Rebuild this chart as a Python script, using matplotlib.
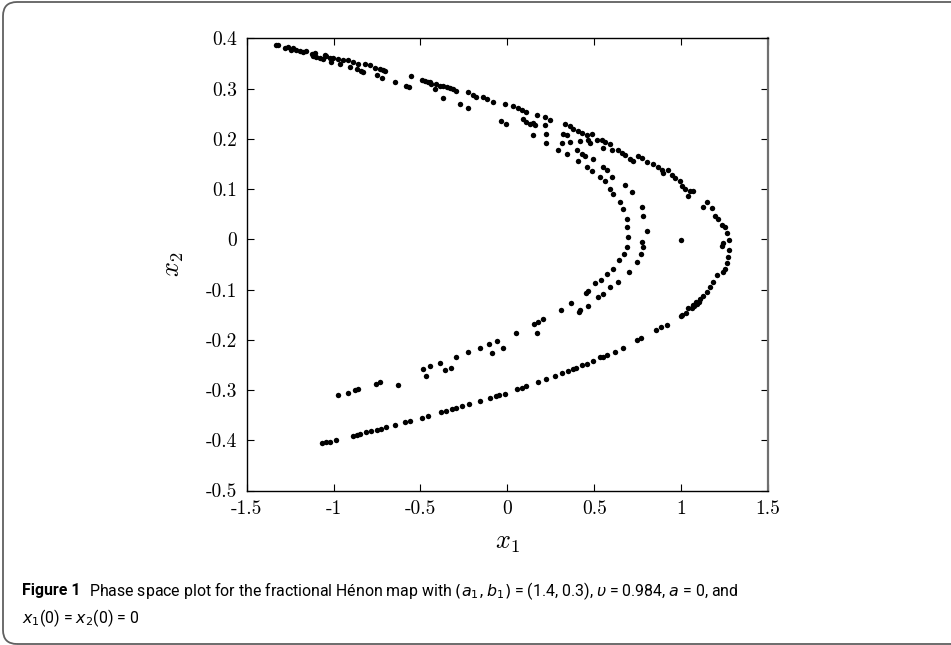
import matplotlib
matplotlib.use("Agg")
import matplotlib.pyplot as plt
from matplotlib.patches import FancyBboxPatch
from matplotlib.transforms import IdentityTransform

# orbit points (x1, x2), grouped by the part of the attractor they sit on
upper_arm = [
    (-1.329, 0.386), (-1.319, 0.386), (-1.281, 0.380), (-1.262, 0.383), (-1.243, 0.376),
    (-1.233, 0.381), (-1.214, 0.377), (-1.195, 0.375), (-1.175, 0.373), (-1.156, 0.375),
    (-1.127, 0.368), (-1.118, 0.364), (-1.108, 0.370), (-1.099, 0.363), (-1.079, 0.361),
    (-1.060, 0.359), (-1.051, 0.366), (-1.041, 0.364), (-1.022, 0.361), (-1.012, 0.353),
    (-1.003, 0.361), (-0.974, 0.358), (-0.964, 0.348), (-0.945, 0.356), (-0.916, 0.356),
    (-0.907, 0.342), (-0.888, 0.353), (-0.868, 0.338), (-0.859, 0.349), (-0.840, 0.335),
    (-0.830, 0.333), (-0.820, 0.348), (-0.792, 0.346), (-0.763, 0.340), (-0.753, 0.326),
    (-0.734, 0.338), (-0.724, 0.322), (-0.715, 0.336), (-0.705, 0.335), (-0.648, 0.313),
    (-0.581, 0.306), (-0.565, 0.304), (-0.552, 0.324), (-0.494, 0.318), (-0.475, 0.315),
    (-0.456, 0.313), (-0.446, 0.313), (-0.437, 0.310), (-0.418, 0.300), (-0.408, 0.310),
    (-0.389, 0.306), (-0.373, 0.282), (-0.369, 0.306), (-0.350, 0.303), (-0.331, 0.302),
    (-0.312, 0.300), (-0.293, 0.296), (-0.274, 0.269), (-0.226, 0.293), (-0.224, 0.262),
    (-0.197, 0.288), (-0.178, 0.284), (-0.139, 0.283), (-0.120, 0.280),
    (-0.082, 0.273), (-0.014, 0.270), (0.034, 0.265), (0.062, 0.262), (0.082, 0.258),
    (0.110, 0.253), (-0.034, 0.235), (-0.005, 0.230), (0.091, 0.240), (0.110, 0.233),
    (0.130, 0.230), (0.149, 0.231), (0.168, 0.247), (0.158, 0.227), (0.145, 0.207),
    (0.216, 0.243), (0.216, 0.227), (0.225, 0.210), (0.225, 0.192), (0.245, 0.238),
    (0.331, 0.229), (0.360, 0.225), (0.379, 0.220), (0.408, 0.215), (0.427, 0.211),
    (0.456, 0.207), (0.485, 0.209), (0.321, 0.210), (0.344, 0.207), (0.312, 0.192),
    (0.360, 0.194), (0.417, 0.195), (0.465, 0.198), (0.475, 0.192), (0.513, 0.198),
    (0.542, 0.197), (0.561, 0.194), (0.590, 0.190), (0.552, 0.182), (0.600, 0.177),
    (0.638, 0.177), (0.657, 0.172), (0.676, 0.167), (0.705, 0.160), (0.724, 0.156),
    (0.753, 0.165), (0.772, 0.162), (0.801, 0.153), (0.840, 0.150), (0.868, 0.144),
    (0.888, 0.137), (0.897, 0.132), (0.926, 0.138), (0.945, 0.127), (0.964, 0.122),
    (0.993, 0.117), (1.003, 0.107), (1.022, 0.101), (1.041, 0.087), (1.051, 0.097),
    (1.070, 0.096),
]

inner_fold = [
    (0.293, 0.178), (0.341, 0.169), (0.398, 0.177), (0.408, 0.156), (0.427, 0.170),
    (0.446, 0.165), (0.456, 0.144), (0.485, 0.136), (0.494, 0.160), (0.532, 0.124),
    (0.552, 0.144), (0.571, 0.137), (0.561, 0.117), (0.600, 0.124), (0.590, 0.101),
    (0.609, 0.091), (0.676, 0.109), (0.715, 0.094), (0.648, 0.074), (0.667, 0.061),
    (0.686, 0.041), (0.690, 0.024), (0.772, 0.064), (0.782, 0.047), (0.805, 0.016),
    (0.696, 0.004), (0.686, -0.016), (0.671, -0.029), (0.644, -0.041), (0.609, -0.059),
    (0.575, -0.070), (0.536, -0.082), (0.504, -0.087), (0.465, -0.103), (0.452, -0.107),
    (0.772, -0.006), (0.782, -0.016), (0.767, -0.030), (0.744, -0.046), (0.701, -0.065),
    (0.638, -0.085), (0.590, -0.095), (0.552, -0.109), (0.523, -0.115), (0.997, -0.001),
]

outer_fold = [
    (1.147, 0.074), (1.128, 0.064), (1.176, 0.063), (1.195, 0.047), (1.214, 0.041),
    (1.233, 0.029), (1.252, 0.024), (1.266, 0.012), (1.277, -0.002), (1.239, -0.008),
    (1.233, -0.014), (1.277, -0.021), (1.271, -0.036), (1.262, -0.048), (1.252, -0.059),
    (1.239, -0.065), (1.204, -0.072), (1.185, -0.085), (1.166, -0.095), (1.147, -0.105),
    (1.124, -0.112), (1.108, -0.119), (1.085, -0.125), (1.066, -0.130), (1.041, -0.137),
    (1.003, -0.150),
]

lower_inner_arm = [
    (-0.974, -0.309), (-0.916, -0.305), (-0.878, -0.300), (-0.859, -0.298), (-0.757, -0.288),
    (-0.730, -0.285), (-0.628, -0.289), (-0.488, -0.258), (-0.471, -0.273), (-0.446, -0.253),
    (-0.389, -0.246), (-0.360, -0.260), (-0.327, -0.256), (-0.293, -0.235), (-0.225, -0.225),
    (-0.158, -0.216), (-0.105, -0.208), (-0.087, -0.226), (-0.057, -0.202), (-0.024, -0.217),
    (0.047, -0.186), (0.153, -0.168), (0.168, -0.186), (0.178, -0.165), (0.206, -0.159),
    (0.308, -0.140), (0.364, -0.127), (0.412, -0.144), (0.417, -0.141), (0.465, -0.132),
]

lower_outer_arm = [
    (-1.064, -0.406), (-1.041, -0.404), (-1.022, -0.403), (-0.987, -0.400), (-0.888, -0.392),
    (-0.864, -0.389), (-0.849, -0.388), (-0.811, -0.384), (-0.782, -0.382), (-0.753, -0.380),
    (-0.728, -0.377), (-0.699, -0.374), (-0.648, -0.370), (-0.590, -0.364), (-0.561, -0.361),
    (-0.494, -0.356), (-0.456, -0.352), (-0.379, -0.344), (-0.354, -0.342), (-0.316, -0.338),
    (-0.293, -0.336), (-0.260, -0.332), (-0.220, -0.328), (-0.158, -0.322), (-0.101, -0.316),
    (-0.066, -0.312), (-0.047, -0.310), (-0.014, -0.307), (0.057, -0.298), (0.082, -0.295),
    (0.110, -0.292), (0.178, -0.285), (0.222, -0.278), (0.275, -0.272), (0.312, -0.267),
    (0.350, -0.262), (0.379, -0.258), (0.394, -0.256), (0.427, -0.251), (0.456, -0.248),
    (0.494, -0.243), (0.532, -0.235), (0.548, -0.234), (0.571, -0.230), (0.619, -0.224),
    (0.667, -0.217), (0.747, -0.200), (0.767, -0.196), (0.855, -0.180), (0.882, -0.175),
    (0.920, -0.170), (0.997, -0.153), (1.028, -0.146), (1.060, -0.137), (1.074, -0.133),
    (1.089, -0.129), (1.104, -0.125),
]

x_ticks = [-1.5, -1, -0.5, 0, 0.5, 1, 1.5]
x_tick_labels = ["-1.5", "-1", "-0.5", "0", "0.5", "1", "1.5"]
y_ticks = [-0.5, -0.4, -0.3, -0.2, -0.1, 0, 0.1, 0.2, 0.3, 0.4]
y_tick_labels = ["-0.5", "-0.4", "-0.3", "-0.2", "-0.1", "0", "0.1", "0.2", "0.3", "0.4"]

plt.rcParams['mathtext.fontset'] = 'cm'

fig = plt.figure(figsize=(9.51, 6.45), dpi=100)
ax = fig.add_axes([0.2594, 0.2395, 0.5482, 0.7011])

for arm in (upper_arm, inner_fold, outer_fold, lower_inner_arm, lower_outer_arm):
    xs = [p[0] for p in arm]
    ys = [p[1] for p in arm]
    ax.plot(xs, ys, 'o', color='black', markersize=3.9, markeredgewidth=0)

ax.set_xlim(-1.5, 1.5)
ax.set_ylim(-0.5, 0.4)
ax.set_xticks(x_ticks, x_tick_labels)
ax.set_yticks(y_ticks, y_tick_labels)
ax.tick_params(direction='in', length=5, width=0.8, top=True, right=True,
               labelsize=14, pad=7)
plt.setp(ax.get_xticklabels() + ax.get_yticklabels(), fontfamily='cmr10')
for s in ax.spines.values():
    s.set_linewidth(1.0)
ax.spines['right'].set_color('#707070')
ax.spines['right'].set_linewidth(1.6)

ax.set_xlabel('$x_1$', fontsize=19, labelpad=8)
ax.set_ylabel('$x_2$', fontsize=19, labelpad=14)

# caption under the plot
cap_font = ['Roboto', 'DejaVu Sans']
head = fig.text(22 / 951, 1 - 591 / 645, 'Figure 1', fontsize=11.4, fontweight='bold',
                family=cap_font, va='center', ha='left')
ax.annotate(r'Phase space plot for the fractional Hénon map with $(a_1, b_1)$ = (1.4, 0.3), '
            r'$\upsilon$ = 0.984, $a$ = 0, and',
            xy=(1, 0.5), xycoords=head, xytext=(6, 0), textcoords='offset points',
            fontsize=11.4, family=cap_font, va='center', ha='left',
            math_fontfamily='dejavusans', annotation_clip=False)
fig.text(22 / 951, 1 - 618 / 645, r'$x_1$(0) = $x_2$(0) = 0',
         fontsize=11.4, family=cap_font, va='center', ha='left', math_fontfamily='dejavusans')

# rounded frame around the figure
frame = FancyBboxPatch((3, 1), 1200, 642, boxstyle='round,pad=0,rounding_size=14',
                       transform=IdentityTransform(), facecolor='none',
                       edgecolor='#606060', linewidth=1.3)
fig.patches.append(frame)

fig.savefig('out.png', dpi=100)
